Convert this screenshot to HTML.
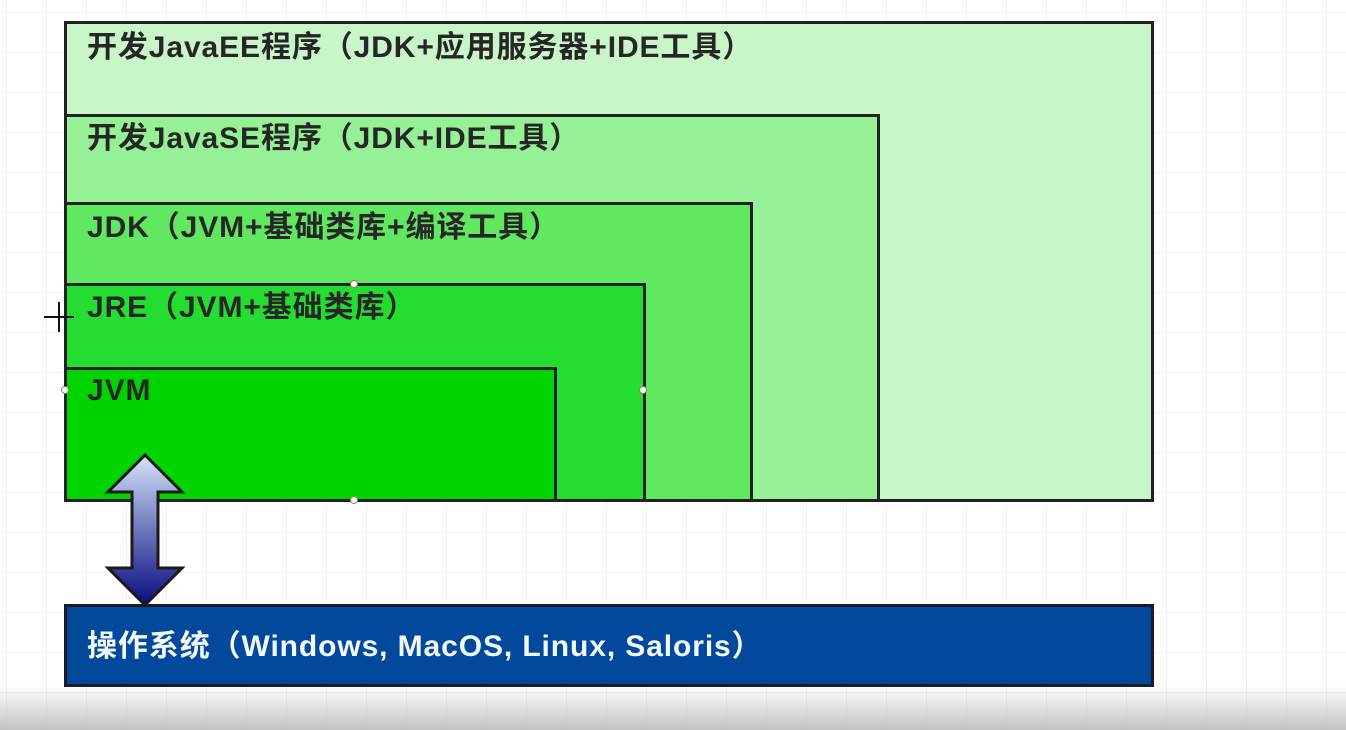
<!DOCTYPE html>
<html><head><meta charset="utf-8"><style>
body{margin:0;width:1346px;height:730px;overflow:hidden;position:relative;font-family:"Liberation Sans","Noto Sans CJK SC",sans-serif;
background:
linear-gradient(to bottom,rgba(255,255,255,0) 0,rgba(255,255,255,0) 685px,rgba(195,195,195,1) 730px),
repeating-linear-gradient(to right,transparent 0 6px,#efefef 6px 7px,transparent 7px 40px),
repeating-linear-gradient(to bottom,transparent 0 12px,#efefef 12px 13px,transparent 13px 40px),#fff;}
.b{position:absolute;box-sizing:border-box;border:3px solid #222;}
.t{position:absolute;left:20px;font-weight:bold;font-size:30px;letter-spacing:0.9px;color:#262626;white-space:nowrap;line-height:1}
.d{position:absolute;width:8px;height:8px;border-radius:50%;background:#fff;border:1px solid #886;box-sizing:border-box}
</style></head><body>
<div class="b" style="left:64px;top:21px;width:1090px;height:481px;background:#c8f6c8"><div class="t" style="top:9px">开发JavaEE程序（JDK+应用服务器+IDE工具）</div></div>
<div class="b" style="left:64px;top:114px;width:816px;height:388px;background:#96f096"><div class="t" style="top:7px">开发JavaSE程序（JDK+IDE工具）</div></div>
<div class="b" style="left:64px;top:202px;width:689px;height:300px;background:#60e860"><div class="t" style="top:8px">JDK（JVM+基础类库+编译工具）</div></div>
<div class="b" style="left:64px;top:283px;width:582px;height:219px;background:#24dd30"><div class="t" style="top:7px">JRE（JVM+基础类库）</div></div>
<div class="b" style="left:64px;top:367px;width:493px;height:135px;background:#00d400"><div class="t" style="top:6px">JVM</div></div>
<div class="d" style="left:350px;top:280px"></div>
<div class="d" style="left:639px;top:386px"></div>
<div class="d" style="left:61px;top:386px"></div>
<div class="d" style="left:350px;top:496px"></div>
<div class="b" style="left:64px;top:604px;width:1090px;height:83px;background:#02489b;border-color:#1a1a2a"><div class="t" style="top:25px;color:#f4f8ff">操作系统（Windows, MacOS, Linux, Saloris）</div></div>
<svg style="position:absolute;left:0;top:0" width="1346" height="730">
<defs><linearGradient id="g" x1="0" y1="0" x2="0" y2="1"><stop offset="0" stop-color="#d4e4fa"/><stop offset="1" stop-color="#0a0a80"/></linearGradient></defs>
<polygon points="145,455 182,492 158,492 158,568 182,568 145,605 108,568 132,568 132,492 108,492" fill="url(#g)" stroke="#1a1a1a" stroke-width="3" stroke-linejoin="miter"/>
<path d="M44 317h30M59 302v30" stroke="#111" stroke-width="2"/>
</svg>
</body></html>
